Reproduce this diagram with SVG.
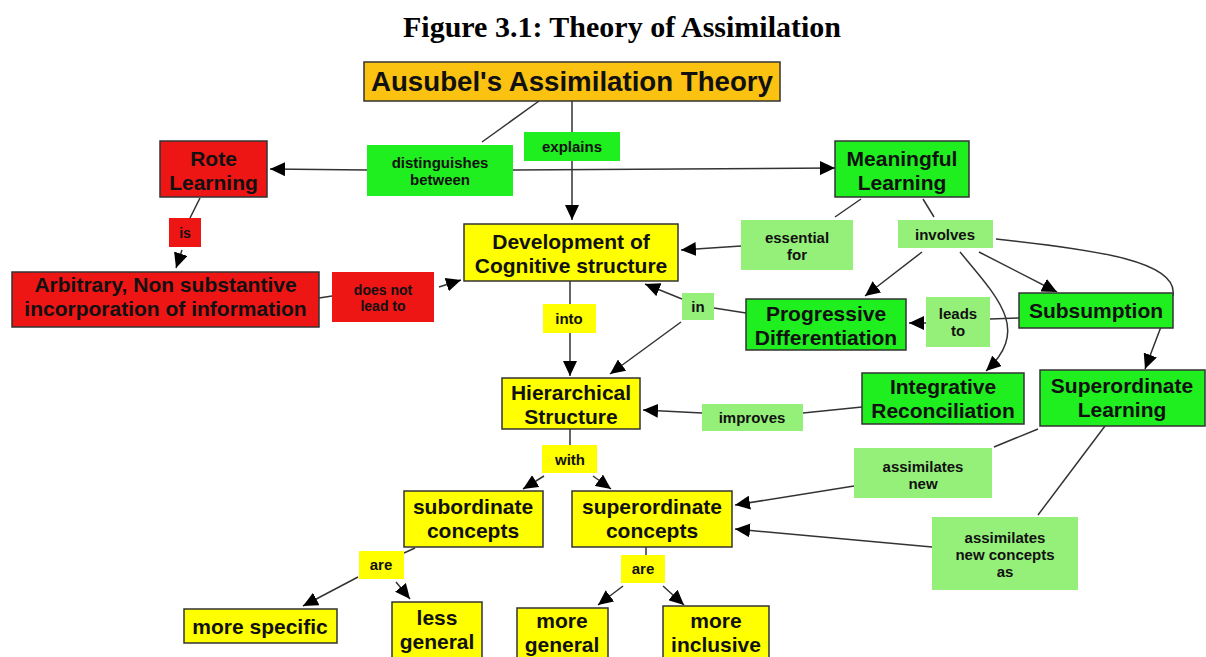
<svg xmlns="http://www.w3.org/2000/svg" width="1206" height="657" viewBox="0 0 1206 657">
<style>
.bg{fill:#ffffff}
.title{font-family:"Liberation Serif",serif;font-weight:bold;font-size:30px;fill:#000}
.n rect{stroke:#333;stroke-width:1.5}
.n text{font-family:"Liberation Sans",Arial,sans-serif;font-weight:bold;font-size:21px;fill:#111;text-anchor:middle}
.l text{font-family:"Liberation Sans",Arial,sans-serif;font-weight:bold;font-size:15px;fill:#111;text-anchor:middle}
.l rect{stroke:none}
.org{fill:#FBC212}
.red{fill:#EE1515}
.grn{fill:#1FEE1F}
.lgr{fill:#95F07A}
.yel{fill:#FFFF00}
#connectors path{fill:none;stroke:#333;stroke-width:1.5}
</style>
<defs>
<marker id="ah" markerUnits="userSpaceOnUse" markerWidth="16" markerHeight="14" refX="15" refY="7" orient="auto">
<path d="M0,0 L15,7 L0,14 Z" fill="#000"/>
</marker>
</defs>
<rect class="bg" width="1206" height="657"/>
<text class="title" x="622" y="37" text-anchor="middle">Figure 3.1: Theory of Assimilation</text>

<g id="connectors">
<path d="M539,101 L482,142"/>
<path d="M572,101 L572,132"/>
<path d="M572,161 L572,220" marker-end="url(#ah)"/>
<path d="M367,170 L270,169" marker-end="url(#ah)"/>
<path d="M513,170 L835,168" marker-end="url(#ah)"/>
<path d="M200,198 L190,218"/>
<path d="M182,250 L176,268" marker-end="url(#ah)"/>
<path d="M319,298 L332,296"/>
<path d="M439,287 L461,280" marker-end="url(#ah)"/>
<path d="M861,199 L835,217"/>
<path d="M741,246 L681,250" marker-end="url(#ah)"/>
<path d="M923,199 L934,217"/>
<path d="M922,252 L865,296" marker-end="url(#ah)"/>
<path d="M979,252 L1057,292" marker-end="url(#ah)"/>
<path d="M960,252 C1000,300 1030,330 986,371" marker-end="url(#ah)"/>
<path d="M996,239 C1100,250 1178,262 1173,295 L1145,369" marker-end="url(#ah)"/>
<path d="M1019,318 L990,319"/>
<path d="M926,323 L909,323" marker-end="url(#ah)"/>
<path d="M746,313 L714,308"/>
<path d="M682,299 L645,284" marker-end="url(#ah)"/>
<path d="M681,322 L610,374" marker-end="url(#ah)"/>
<path d="M570,281 L570,304"/>
<path d="M570,333 L570,376" marker-end="url(#ah)"/>
<path d="M862,407 L803,413"/>
<path d="M702,413 L643,410" marker-end="url(#ah)"/>
<path d="M570,429 L570,445"/>
<path d="M544,476 L523,489" marker-end="url(#ah)"/>
<path d="M593,476 L611,489" marker-end="url(#ah)"/>
<path d="M1038,429 L994,447"/>
<path d="M854,486 L735,505" marker-end="url(#ah)"/>
<path d="M1105,426 L1038,515"/>
<path d="M932,547 L735,529" marker-end="url(#ah)"/>
<path d="M646,547 L646,555"/>
<path d="M623,586 L598,605" marker-end="url(#ah)"/>
<path d="M663,586 L684,605" marker-end="url(#ah)"/>
<path d="M415,548 L404,553"/>
<path d="M358,577 L303,606" marker-end="url(#ah)"/>
<path d="M396,582 L410,599" marker-end="url(#ah)"/>
</g>

<g id="ausubel" class="n"><rect class="org" x="364" y="62" width="416" height="39"/><text x="572" y="91" style="font-size:27px" textLength="402" lengthAdjust="spacingAndGlyphs">Ausubel's Assimilation Theory</text></g>
<g id="rote" class="n"><rect class="red" x="160" y="141" width="107" height="56"/><text x="213.5" y="166">Rote</text><text x="213.5" y="190">Learning</text></g>
<g id="meaningful" class="n"><rect class="grn" x="835" y="141" width="134" height="56"/><text x="902" y="166">Meaningful</text><text x="902" y="190">Learning</text></g>
<g id="arbitrary" class="n"><rect class="red" x="12" y="272" width="307" height="55"/><text x="165.5" y="292">Arbitrary, Non substantive</text><text x="165.5" y="316">incorporation of information</text></g>
<g id="development" class="n"><rect class="yel" x="464" y="224" width="214" height="57"/><text x="571" y="249">Development of</text><text x="571" y="273">Cognitive structure</text></g>
<g id="progressive" class="n"><rect class="grn" x="746" y="299" width="160" height="51"/><text x="826" y="321">Progressive</text><text x="826" y="345">Differentiation</text></g>
<g id="subsumption" class="n"><rect class="grn" x="1019" y="293" width="154" height="35"/><text x="1096" y="318">Subsumption</text></g>
<g id="integrative" class="n"><rect class="grn" x="862" y="373" width="162" height="51"/><text x="943" y="394">Integrative</text><text x="943" y="418">Reconciliation</text></g>
<g id="superordinate-learning" class="n"><rect class="grn" x="1040" y="370" width="165" height="56"/><text x="1122" y="393">Superordinate</text><text x="1122" y="417">Learning</text></g>
<g id="hierarchical" class="n"><rect class="yel" x="502" y="378" width="138" height="51"/><text x="571" y="400">Hierarchical</text><text x="571" y="424">Structure</text></g>
<g id="subordinate" class="n"><rect class="yel" x="404" y="491" width="139" height="56"/><text x="473" y="514">subordinate</text><text x="473" y="538">concepts</text></g>
<g id="superordinate" class="n"><rect class="yel" x="572" y="491" width="160" height="56"/><text x="652" y="514">superordinate</text><text x="652" y="538">concepts</text></g>
<g id="more-specific" class="n"><rect class="yel" x="184" y="609" width="153" height="34"/><text x="260" y="634">more specific</text></g>
<g id="less-general" class="n"><rect class="yel" x="392" y="602" width="90" height="60"/><text x="437" y="625">less</text><text x="437" y="649">general</text></g>
<g id="more-general" class="n"><rect class="yel" x="517" y="608" width="91" height="54"/><text x="562" y="628">more</text><text x="562" y="652">general</text></g>
<g id="more-inclusive" class="n"><rect class="yel" x="663" y="606" width="106" height="56"/><text x="716" y="628">more</text><text x="716" y="652">inclusive</text></g>

<g id="lbl-distinguishes" class="l"><rect class="grn" x="367" y="145" width="146" height="51"/><text x="440" y="168">distinguishes</text><text x="440" y="185">between</text></g>
<g id="lbl-explains" class="l"><rect class="grn" x="524" y="132" width="96" height="29"/><text x="572" y="152">explains</text></g>
<g id="lbl-is" class="l"><rect class="red" x="169" y="218" width="32" height="29"/><text x="185" y="238" style="font-size:14px">is</text></g>
<g id="lbl-doesnot" class="l"><rect class="red" x="332" y="272" width="102" height="50"/><text x="383" y="295" style="font-size:14px">does not</text><text x="383" y="311" style="font-size:14px">lead to</text></g>
<g id="lbl-essential" class="l"><rect class="lgr" x="741" y="220" width="112" height="50"/><text x="797" y="243">essential</text><text x="797" y="260">for</text></g>
<g id="lbl-involves" class="l"><rect class="lgr" x="898" y="220" width="95" height="28"/><text x="945" y="240">involves</text></g>
<g id="lbl-leads" class="l"><rect class="lgr" x="926" y="297" width="64" height="50"/><text x="958" y="319">leads</text><text x="958" y="336">to</text></g>
<g id="lbl-in" class="l"><rect class="lgr" x="682" y="293" width="32" height="27"/><text x="698" y="312">in</text></g>
<g id="lbl-into" class="l"><rect class="yel" x="543" y="304" width="53" height="29"/><text x="569" y="324">into</text></g>
<g id="lbl-improves" class="l"><rect class="lgr" x="702" y="404" width="101" height="27"/><text x="752" y="423">improves</text></g>
<g id="lbl-with" class="l"><rect class="yel" x="542" y="445" width="55" height="28"/><text x="570" y="465">with</text></g>
<g id="lbl-are-super" class="l"><rect class="yel" x="621" y="555" width="44" height="28"/><text x="643" y="574">are</text></g>
<g id="lbl-are-sub" class="l"><rect class="yel" x="359" y="551" width="45" height="28"/><text x="381" y="570">are</text></g>
<g id="lbl-assim-new" class="l"><rect class="lgr" x="854" y="448" width="138" height="50"/><text x="923" y="472">assimilates</text><text x="923" y="489">new</text></g>
<g id="lbl-assim-as" class="l"><rect class="lgr" x="932" y="517" width="146" height="73"/><text x="1005" y="543">assimilates</text><text x="1005" y="560">new concepts</text><text x="1005" y="577">as</text></g>
</svg>
